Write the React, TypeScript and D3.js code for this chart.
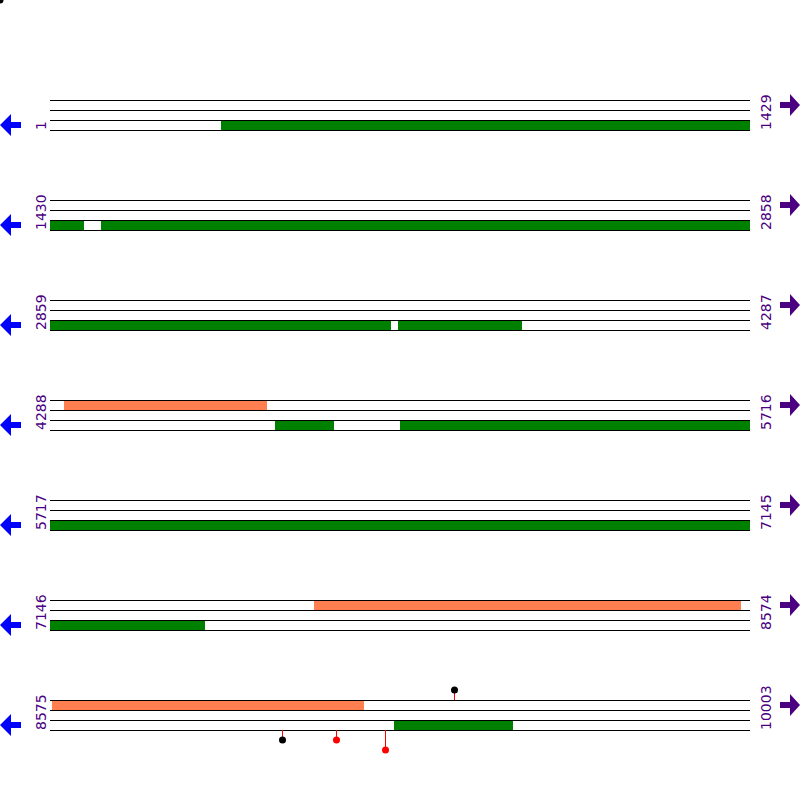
import React from "react";
import * as d3 from "d3";

const rowStarts = [1, 1430, 2859, 4288, 5717, 7146, 8575];
const rowEnds = [1429, 2858, 4287, 5716, 7145, 8574, 10003];
const trackOffsets = [0, 1, 2, 3];

// green features on track 3 (between lines 3 and 4)
const greenStarts = [350, 1534, 3569, 4747, 5002, 9277];
const greenEnds = [1499, 3555, 3822, 4866, 7462, 9520];

// orange features on track 1 (between lines 1 and 2)
const orangeStarts = [4317, 7685, 8579];
const orangeEnds = [4731, 8556, 9214];

// lollipop markers: position, side (up/down), stem length, head colour
const lolliPos = [9400, 9049, 9159, 9259];
const lolliUp = [true, false, false, false];
const lolliLen = [10, 10, 10, 20];
const lolliColor = ["black", "black", "red", "red"];

const W = 800;
const X0 = 50;
const X1 = 750;
const ROW_Y0 = 100;
const ROW_STEP = 100;
const TRACK_STEP = 10;

function segmentsFor(starts: number[], ends: number[]) {
  const segs: { row: number; a: number; b: number }[] = [];
  starts.forEach((s, i) => {
    const e = ends[i];
    rowStarts.forEach((rs, r) => {
      const re = rowEnds[r];
      const a = Math.max(s, rs);
      const b = Math.min(e, re);
      if (a <= b) segs.push({ row: r, a, b });
    });
  });
  return segs;
}

export default function App() {
  const scales = rowStarts.map((rs, r) =>
    d3.scaleLinear().domain([rs, rowEnds[r] + 1]).range([X0, X1])
  );
  const greens = segmentsFor(greenStarts, greenEnds);
  const oranges = segmentsFor(orangeStarts, orangeEnds);

  const rowIndexOf = (p: number) =>
    rowStarts.findIndex((rs, r) => p >= rs && p <= rowEnds[r]);

  return (
    <svg
      width={W}
      height={W}
      style={{ position: "absolute", left: 0, top: 0, background: "white" }}
      shapeRendering="crispEdges"
    >
      <circle cx={0} cy={0} r={3.5} fill="black" shapeRendering="auto" />
      {rowStarts.map((rs, r) => {
        const y0 = ROW_Y0 + r * ROW_STEP;
        return (
          <g key={r}>
            {oranges
              .filter((s) => s.row === r)
              .map((s, i) => (
                <rect
                  key={"o" + i}
                  x={scales[r](s.a)}
                  y={y0}
                  width={scales[r](s.b + 1) - scales[r](s.a)}
                  height={TRACK_STEP}
                  fill="#FF7F50"
                />
              ))}
            {greens
              .filter((s) => s.row === r)
              .map((s, i) => (
                <rect
                  key={"g" + i}
                  x={scales[r](s.a)}
                  y={y0 + 2 * TRACK_STEP}
                  width={scales[r](s.b + 1) - scales[r](s.a)}
                  height={TRACK_STEP}
                  fill="#008000"
                />
              ))}
            {trackOffsets.map((t) => (
              <line
                key={t}
                x1={X0}
                x2={X1}
                y1={y0 + t * TRACK_STEP + 0.5}
                y2={y0 + t * TRACK_STEP + 0.5}
                stroke="black"
                strokeWidth={1}
              />
            ))}
            <text
              transform={`translate(46,${y0 + 30}) rotate(-90)`}
              fontFamily="DejaVu Sans"
              fontSize={14}
              fill="#4B0082"
              textAnchor="start"
            >
              {rs}
            </text>
            <text
              transform={`translate(771,${y0 + 30}) rotate(-90)`}
              fontFamily="DejaVu Sans"
              fontSize={14}
              fill="#4B0082"
              textAnchor="start"
            >
              {rowEnds[r]}
            </text>
            <path
              d={`M0,${y0 + 25} L11,${y0 + 14} L11,${y0 + 22} L21,${y0 + 22} L21,${y0 + 28} L11,${y0 + 28} L11,${y0 + 36} Z`}
              fill="#0000FF"
              shapeRendering="auto"
            />
            <path
              d={`M800,${y0 + 5} L790,${y0 - 6} L790,${y0 + 2} L780,${y0 + 2} L780,${y0 + 8} L790,${y0 + 8} L790,${y0 + 16} Z`}
              fill="#4B0082"
              shapeRendering="auto"
            />
          </g>
        );
      })}
      {lolliPos.map((p, i) => {
        const r = rowIndexOf(p);
        const y0 = ROW_Y0 + r * ROW_STEP;
        const x = Math.round(scales[r](p)) + 0.5;
        const base = lolliUp[i] ? y0 : y0 + 3 * TRACK_STEP;
        const tip = lolliUp[i] ? base - lolliLen[i] : base + lolliLen[i];
        return (
          <g key={"l" + i}>
            <line x1={x} x2={x} y1={base} y2={tip} stroke="red" strokeWidth={1} />
            <circle cx={x} cy={tip} r={3.5} fill={lolliColor[i]} shapeRendering="auto" />
          </g>
        );
      })}
    </svg>
  );
}
